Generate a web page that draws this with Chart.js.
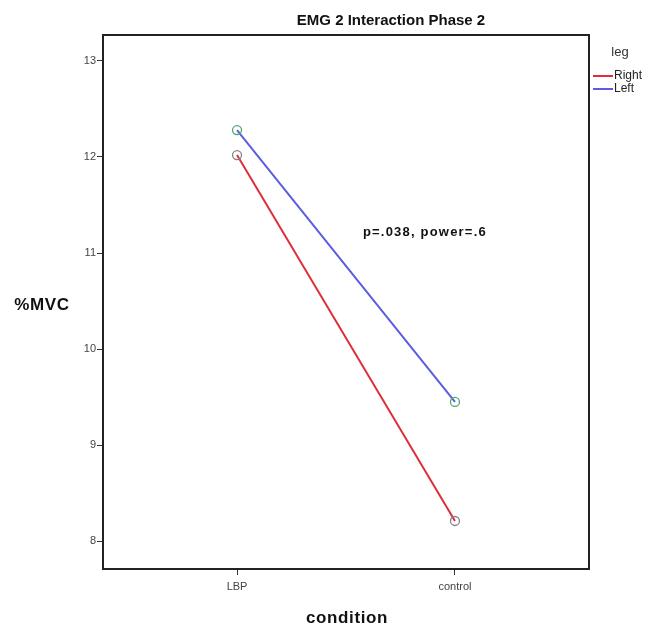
<!DOCTYPE html>
<html lang="en">
<head>
  <meta charset="UTF-8">
  <title>EMG 2 Interaction Phase 2</title>
  <style>
    body, html {
      margin: 0;
      padding: 0;
      background-color: #ffffff;
    }
    #chart-container {
      width: 650px;
      height: 628px;
    }
  </style>
</head>
<body>
  <div id="chart-container">
    <canvas id="emgChart" width="650" height="628"></canvas>
  </div>

  <script src="https://cdn.jsdelivr.net/npm/chart.js"></script>
  <script>
    // values
    const conditions = ['LBP', 'control'];
    const rightValues = [12.02, 8.21];
    const leftValues = [12.28, 9.45];
    const yTicks = [8, 9, 10, 11, 12, 13];
    const legendTitle = 'leg';
    const seriesNames = ['Right', 'Left'];
    const seriesColors = ['#dc2f3a', '#5c5ce0'];
    const markerColors = ['#8c7f86', '#4aa870'];
    const note = 'p=.038, power=.6';

    const FONT = '"Liberation Sans", Arial, sans-serif';

    const toPoints = vals => vals.map((v, i) => ({ x: i, y: v }));

    // frame, title, legend, axis titles and annotation
    const decorations = {
      id: 'decorations',
      afterDraw(chart) {
        const { ctx, chartArea: a, scales } = chart;
        ctx.save();

        // box round the plot
        ctx.strokeStyle = '#222';
        ctx.lineWidth = 2;
        ctx.strokeRect(a.left, a.top, a.right - a.left, a.bottom - a.top);

        // title
        ctx.fillStyle = '#111';
        ctx.font = 'bold 15px ' + FONT;
        ctx.textAlign = 'center';
        ctx.textBaseline = 'middle';
        ctx.fillText('EMG 2 Interaction Phase 2', 391, 21);

        // axis titles (y one horizontal, like SPSS)
        ctx.letterSpacing = '0.6px';
        ctx.font = 'bold 17px ' + FONT;
        ctx.fillText('%MVC', 42, 305);
        ctx.fillText('condition', 347, 618);

        // legend
        ctx.letterSpacing = '0px';
        ctx.font = '13px ' + FONT;
        ctx.fillStyle = '#333';
        ctx.fillText(legendTitle, 620, 52);
        ctx.font = '12px ' + FONT;
        ctx.textAlign = 'left';
        seriesNames.forEach((name, i) => {
          const y = 76 + i * 13;
          ctx.strokeStyle = seriesColors[i];
          ctx.lineWidth = 2;
          ctx.beginPath();
          ctx.moveTo(593, y);
          ctx.lineTo(613, y);
          ctx.stroke();
          ctx.fillStyle = '#222';
          ctx.fillText(name, 614, y);
        });

        // annotation
        ctx.letterSpacing = '1.2px';
        ctx.font = 'bold 13px ' + FONT;
        ctx.textAlign = 'center';
        ctx.fillStyle = '#111';
        ctx.fillText(note, scales.x.getPixelForValue(0.862), scales.y.getPixelForValue(11.21));

        ctx.restore();
      }
    };

    const createChart = () => {
      const ctx = document.getElementById('emgChart').getContext('2d');
      new Chart(ctx, {
        type: 'line',
        data: {
          datasets: [
            {
              label: seriesNames[0],
              data: toPoints(rightValues),
              borderColor: seriesColors[0],
              borderWidth: 2,
              pointRadius: 4.5,
              pointBorderWidth: 1.3,
              pointBorderColor: markerColors[0],
              pointBackgroundColor: 'rgba(255,255,255,0)',
              fill: false
            },
            {
              label: seriesNames[1],
              data: toPoints(leftValues),
              borderColor: seriesColors[1],
              borderWidth: 2,
              pointRadius: 4.5,
              pointBorderWidth: 1.3,
              pointBorderColor: markerColors[1],
              pointBackgroundColor: 'rgba(255,255,255,0)',
              fill: false
            }
          ]
        },
        options: {
          responsive: false,
          animation: false,
          layout: {
            padding: { top: 35, right: 61, left: 0, bottom: 0 }
          },
          scales: {
            x: {
              type: 'linear',
              min: -0.615,
              max: 1.615,
              afterBuildTicks: scale => {
                scale.ticks = conditions.map((c, i) => ({ value: i }));
              },
              afterFit: scale => { scale.height = 59; },
              grid: {
                drawOnChartArea: false,
                drawTicks: true,
                tickLength: 6,
                color: '#333'
              },
              border: { display: false },
              ticks: {
                padding: 5,
                color: '#444',
                font: { family: FONT, size: 11 },
                callback: v => conditions[v]
              }
            },
            y: {
              min: 7.71,
              max: 13.27,
              afterBuildTicks: scale => {
                scale.ticks = yTicks.map(v => ({ value: v }));
              },
              afterFit: scale => { scale.width = 103; },
              grid: {
                drawOnChartArea: false,
                drawTicks: true,
                tickLength: 6,
                color: '#333'
              },
              border: { display: false },
              ticks: {
                padding: 1,
                color: '#444',
                font: { family: FONT, size: 11 }
              }
            }
          },
          plugins: {
            legend: { display: false },
            tooltip: { enabled: false }
          }
        },
        plugins: [decorations]
      });
    };

    createChart();
  </script>
</body>
</html>
